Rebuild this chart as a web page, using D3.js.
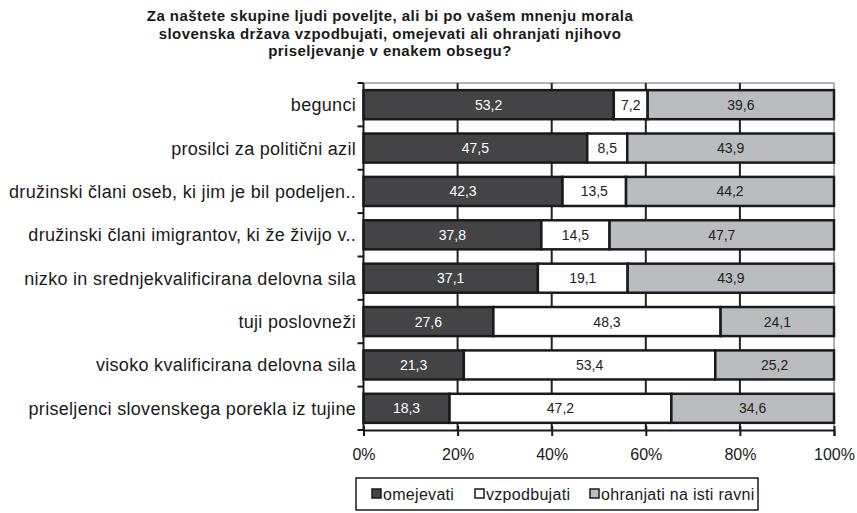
<!DOCTYPE html>
<html>
<head>
<meta charset="utf-8">
<script src="https://cdn.jsdelivr.net/npm/d3@7"></script>
<style>
  body { margin: 0; background: #fff; }
  svg { font-family: "Liberation Sans", Arial, sans-serif; }
</style>
</head>
<body>
<script>
// categories and answer shares (%)
var categories = [
  "begunci",
  "prosilci za politični azil",
  "družinski člani oseb, ki jim je bil podeljen..",
  "družinski člani imigrantov, ki že živijo v..",
  "nizko in srednjekvalificirana delovna sila",
  "tuji poslovneži",
  "visoko kvalificirana delovna sila",
  "priseljenci slovenskega porekla iz tujine"
];
var omejevati   = [53.2, 47.5, 42.3, 37.8, 37.1, 27.6, 21.3, 18.3];
var vzpodbujati = [7.2, 8.5, 13.5, 14.5, 19.1, 48.3, 53.4, 47.2];
var ohranjati   = [39.6, 43.9, 44.2, 47.7, 43.9, 24.1, 25.2, 34.6];
var seriesNames = ["omejevati", "vzpodbujati", "ohranjati na isti ravni"];
var tickValues = [0, 0.2, 0.4, 0.6, 0.8, 1];
var titleLines = [
  "Za naštete skupine ljudi poveljte, ali bi po vašem mnenju morala",
  "slovenska država vzpodbujati, omejevati ali ohranjati njihovo",
  "priseljevanje v enakem obsegu?"
];

var width = 857, height = 513;
var margin = {left: 363.5, right: 23, top: 83, bottom: 83};
var fills = ["#444446", "#ffffff", "#bbbcbf"];
var textFills = ["#ffffff", "#222222", "#222222"];

var svg = d3.select("body").append("svg")
    .attr("width", width)
    .attr("height", height);

// title
svg.append("g").selectAll("text")
    .data(titleLines)
    .enter().append("text")
    .attr("x", 390)
    .attr("y", function(d, i) { return 21 + i * 17.5; })
    .attr("text-anchor", "middle")
    .attr("font-size", 15)
    .attr("letter-spacing", 0.45)
    .attr("font-weight", "bold")
    .attr("fill", "#1a1a1a")
    .text(function(d) { return d; });

var x = d3.scaleLinear().domain([0, 1]).range([margin.left, width - margin.right]);
var y = d3.scaleBand().domain(categories)
    .range([margin.top, height - margin.bottom])
    .paddingInner(0.33).paddingOuter(0.165);

var rows = categories.map(function(c, i) {
  return {cat: c, omejevati: omejevati[i], vzpodbujati: vzpodbujati[i], ohranjati: ohranjati[i]};
});
var stack = d3.stack().keys(["omejevati", "vzpodbujati", "ohranjati"])
    .offset(d3.stackOffsetExpand);
var layers = stack(rows);

// plot border (gray top and right)
var plotTop = margin.top, plotBottom = height - margin.bottom;
svg.append("line").attr("x1", x(0)).attr("x2", x(1)).attr("y1", plotTop).attr("y2", plotTop)
    .attr("stroke", "#999").attr("stroke-width", 1.5);
svg.append("line").attr("x1", x(1)).attr("x2", x(1)).attr("y1", plotTop).attr("y2", plotBottom)
    .attr("stroke", "#999").attr("stroke-width", 1.5);

// vertical gridlines
svg.append("g").selectAll("line")
    .data(tickValues.slice(1, -1))
    .enter().append("line")
    .attr("x1", function(d) { return x(d); })
    .attr("x2", function(d) { return x(d); })
    .attr("y1", plotTop).attr("y2", plotBottom)
    .attr("stroke", "#222").attr("stroke-width", 2);

// bars
var layer = svg.append("g").selectAll("g")
    .data(layers)
    .enter().append("g");

layer.selectAll("rect")
    .data(function(d, k) { return d.map(function(p) { p.k = k; return p; }); })
    .enter().append("rect")
    .attr("x", function(d) { return x(d[0]); })
    .attr("width", function(d) { return x(d[1]) - x(d[0]); })
    .attr("y", function(d) { return y(d.data.cat); })
    .attr("height", y.bandwidth())
    .attr("fill", function(d) { return fills[d.k]; })
    .attr("stroke", "#1a1a1a")
    .attr("stroke-width", 2.5);

layer.selectAll("text")
    .data(function(d, k) { return d.map(function(p) { return {p: p, k: k, key: d.key}; }); })
    .enter().append("text")
    .attr("x", function(d) { return (x(d.p[0]) + x(d.p[1])) / 2; })
    .attr("y", function(d) { return y(d.p.data.cat) + y.bandwidth() / 2; })
    .attr("dy", "0.36em")
    .attr("text-anchor", "middle")
    .attr("font-size", 14)
    .attr("fill", function(d) { return textFills[d.k]; })
    .text(function(d) { return String(d.p.data[d.key]).replace(".", ","); });

// left axis with ticks between categories
var yAxis = svg.append("g");
yAxis.append("line").attr("x1", x(0)).attr("x2", x(0)).attr("y1", plotTop).attr("y2", plotBottom)
    .attr("stroke", "#1a1a1a").attr("stroke-width", 2);
var step = y.step();
yAxis.selectAll(".tk")
    .data(d3.range(categories.length + 1))
    .enter().append("line")
    .attr("x1", x(0) - 6).attr("x2", x(0))
    .attr("y1", function(i) { return plotTop + i * step; })
    .attr("y2", function(i) { return plotTop + i * step; })
    .attr("stroke", "#1a1a1a").attr("stroke-width", 2);
yAxis.selectAll("text")
    .data(categories)
    .enter().append("text")
    .attr("x", 356)
    .attr("y", function(d) { return y(d) + y.bandwidth() / 2; })
    .attr("dy", "0.36em")
    .attr("text-anchor", "end")
    .attr("font-size", 18)
    .attr("letter-spacing", 0.3)
    .attr("fill", "#1a1a1a")
    .text(function(d) { return d; });

// bottom axis
var xAxis = svg.append("g")
    .attr("transform", "translate(0," + plotBottom + ")")
    .call(d3.axisBottom(x).tickValues(tickValues).tickSize(6).tickPadding(13)
      .tickFormat(d3.format(".0%")));
xAxis.select(".domain").attr("stroke", "#1a1a1a").attr("stroke-width", 2);
xAxis.selectAll(".tick line").attr("stroke", "#1a1a1a").attr("stroke-width", 2)
    .attr("y1", -4);
xAxis.selectAll(".tick text").attr("font-size", 16)
    .attr("font-family", "Liberation Sans, Arial, sans-serif").attr("fill", "#1a1a1a");

// legend
var legend = svg.append("g").attr("transform", "translate(356,478)");
legend.append("rect").attr("width", 402).attr("height", 32)
    .attr("fill", "#fff").attr("stroke", "#1a1a1a").attr("stroke-width", 1.5);
var legendX = [16, 119, 234];
var item = legend.selectAll(".it")
    .data(seriesNames)
    .enter().append("g")
    .attr("transform", function(d, i) { return "translate(" + legendX[i] + ",11)"; });
item.append("rect").attr("width", 9).attr("height", 9)
    .attr("fill", function(d, i) { return fills[i]; })
    .attr("stroke", "#1a1a1a").attr("stroke-width", 1.5);
item.append("text").attr("x", 11).attr("y", 10.5)
    .attr("font-size", 16).attr("letter-spacing", 0.3)
    .attr("fill", "#1a1a1a")
    .text(function(d) { return d; });
</script>
</body>
</html>
